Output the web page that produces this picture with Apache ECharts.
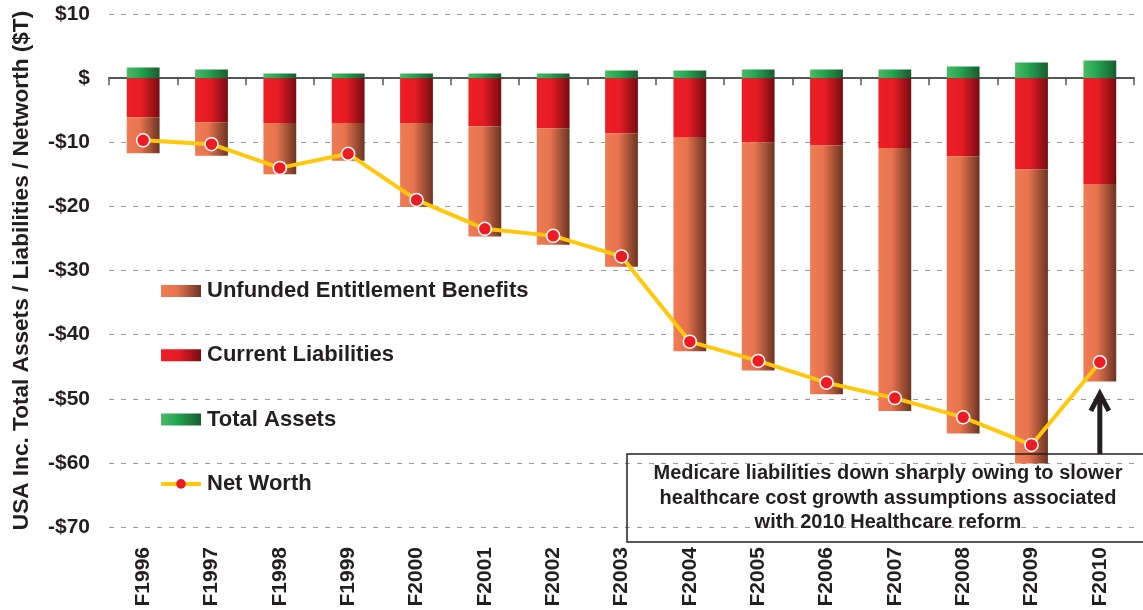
<!DOCTYPE html>
<html><head><meta charset="utf-8">
<script src="https://cdn.jsdelivr.net/npm/echarts@6/dist/echarts.min.js"></script>
<style>html,body{margin:0;padding:0;background:#fff}#c{width:1143px;height:610px}</style>
</head><body><div id="c"></div>
<script>
const categories = ['F1996','F1997','F1998','F1999','F2000','F2001','F2002','F2003','F2004','F2005','F2006','F2007','F2008','F2009','F2010'];
const totalAssets = [1.66,1.35,0.73,0.73,0.73,0.73,0.73,1.2,1.2,1.35,1.35,1.35,1.82,2.44,2.75];
const currentLiabilities = [-6.1,-6.9,-7.0,-7.0,-7.0,-7.5,-7.8,-8.6,-9.2,-10.0,-10.5,-10.9,-12.2,-14.2,-16.5];
const unfundedEntitlements = [-5.6,-5.2,-8.0,-5.9,-13.1,-17.2,-18.2,-20.8,-33.4,-35.6,-38.8,-41.0,-43.2,-45.9,-30.8];
const netWorth = [-9.7,-10.3,-14.0,-11.8,-19.0,-23.5,-24.6,-27.8,-41.1,-44.1,-47.5,-49.9,-52.9,-57.2,-44.3];
const yAxisMin = -70, yAxisMax = 10, yAxisStep = 10;
const annotationLines = ['Medicare liabilities down sharply owing to slower','healthcare cost growth assumptions associated','with 2010 Healthcare reform'];

const FONT = '"Liberation Sans", Arial, sans-serif';
const grad = (a,b,c,m) => new echarts.graphic.LinearGradient(0,0,1,0,[{offset:0,color:a},{offset:m,color:b},{offset:1,color:c}]);
const fmt = v => v === 0 ? '$' : (v < 0 ? '-$' + (-v) : '$' + v);

const chart = echarts.init(document.getElementById('c'), null, {renderer:'canvas'});
const option = {
  animation:false,
  backgroundColor:'#fff',
  textStyle:{fontFamily:FONT},
  grid:{left:109, right:9, top:14, bottom:83, containLabel:false},
  legend:{
    orient:'vertical', left:159, top:280, padding:0, itemWidth:40, itemHeight:12, itemGap:42.3,
    textStyle:{fontSize:22, fontWeight:'bold', color:'#231f20', fontFamily:FONT, padding:[0,0,0,1]},
    data:[{name:'Unfunded Entitlement Benefits', icon:'rect'},{name:'Current Liabilities', icon:'rect'},{name:'Total Assets', icon:'rect'},
          {name:'Net Worth', lineStyle:{width:4, color:'#ffc80a'}, itemStyle:{color:'#ed1c24', borderWidth:0}}]
  },
  xAxis:[
    {type:'category', data:categories, position:'bottom',
     axisLine:{show:false, onZero:false}, axisTick:{show:false},
     axisLabel:{rotate:90, margin:20, fontSize:21, fontWeight:'bold', color:'#231f20', fontFamily:FONT}},
    {type:'category', data:categories, position:'top',
     axisLine:{show:true, onZero:true, lineStyle:{color:'#555', width:2}},
     axisTick:{show:true, inside:true, length:7, lineStyle:{color:'#555', width:1.5}},
     axisLabel:{show:false}, splitLine:{show:false}}
  ],
  yAxis:{
    type:'value', min:yAxisMin, max:yAxisMax, interval:yAxisStep,
    name:'USA Inc. Total Assets / Liabilities / Networth ($T)', nameLocation:'middle', nameGap:76,
    nameTextStyle:{fontSize:22.6, fontWeight:'bold', color:'#231f20', fontFamily:FONT},
    axisLine:{show:false}, axisTick:{show:false},
    axisLabel:{formatter:fmt, fontSize:21, fontWeight:'bold', color:'#231f20', margin:19, fontFamily:FONT},
    splitLine:{show:true, lineStyle:{color:'#9a9a9a', width:1.2, type:[5,7]}}
  },
  series:[
    {name:'Total Assets', type:'bar', stack:'t', data:totalAssets, barWidth:'48%',
     itemStyle:{color:grad('#4cba66','#25a552','#175c30',0.4)}},
    {name:'Current Liabilities', type:'bar', stack:'t', data:currentLiabilities, barWidth:'48%',
     itemStyle:{color:grad('#ee1d25','#e61c24','#760b10',0.45)}},
    {name:'Unfunded Entitlement Benefits', type:'bar', stack:'t', data:unfundedEntitlements, barWidth:'48%',
     itemStyle:{color:grad('#f07c56','#e8744e','#6c3423',0.4)}},
    {name:'Net Worth', type:'line', data:netWorth, z:5,
     lineStyle:{color:'#ffc80a', width:4},
     itemStyle:{color:'#ed1c24', borderColor:'#fff', borderWidth:1.5},
     symbol:'circle', symbolSize:13}
  ]
};
chart.setOption(option);

const last = categories.length - 1;
const px = chart.convertToPixel({xAxisIndex:0}, categories[last]);
const barBottom = chart.convertToPixel({yAxisIndex:0}, currentLiabilities[last] + unfundedEntitlements[last]);
const boxTop = 454, tipY = barBottom + 11.5;
chart.setOption({graphic:[
  {type:'rect', shape:{x:627, y:boxTop, width:522, height:88}, style:{fill:'none', stroke:'#231f20', lineWidth:1.5}, z:10},
  {type:'text', x:888, y:boxTop+44, style:{text:annotationLines.join('\n'), align:'center', verticalAlign:'middle',
     font:'bold 20px ' + FONT, fill:'#231f20', lineHeight:24.5}, z:11},
  {type:'line', shape:{x1:px, y1:boxTop, x2:px, y2:tipY+2}, style:{stroke:'#231f20', lineWidth:5}, z:11},
  {type:'polyline', shape:{points:[[px-9, tipY+18],[px, tipY+1],[px+9, tipY+18]]}, style:{stroke:'#231f20', lineWidth:5, fill:'none', lineJoin:'miter'}, z:11}
]});
</script></body></html>
